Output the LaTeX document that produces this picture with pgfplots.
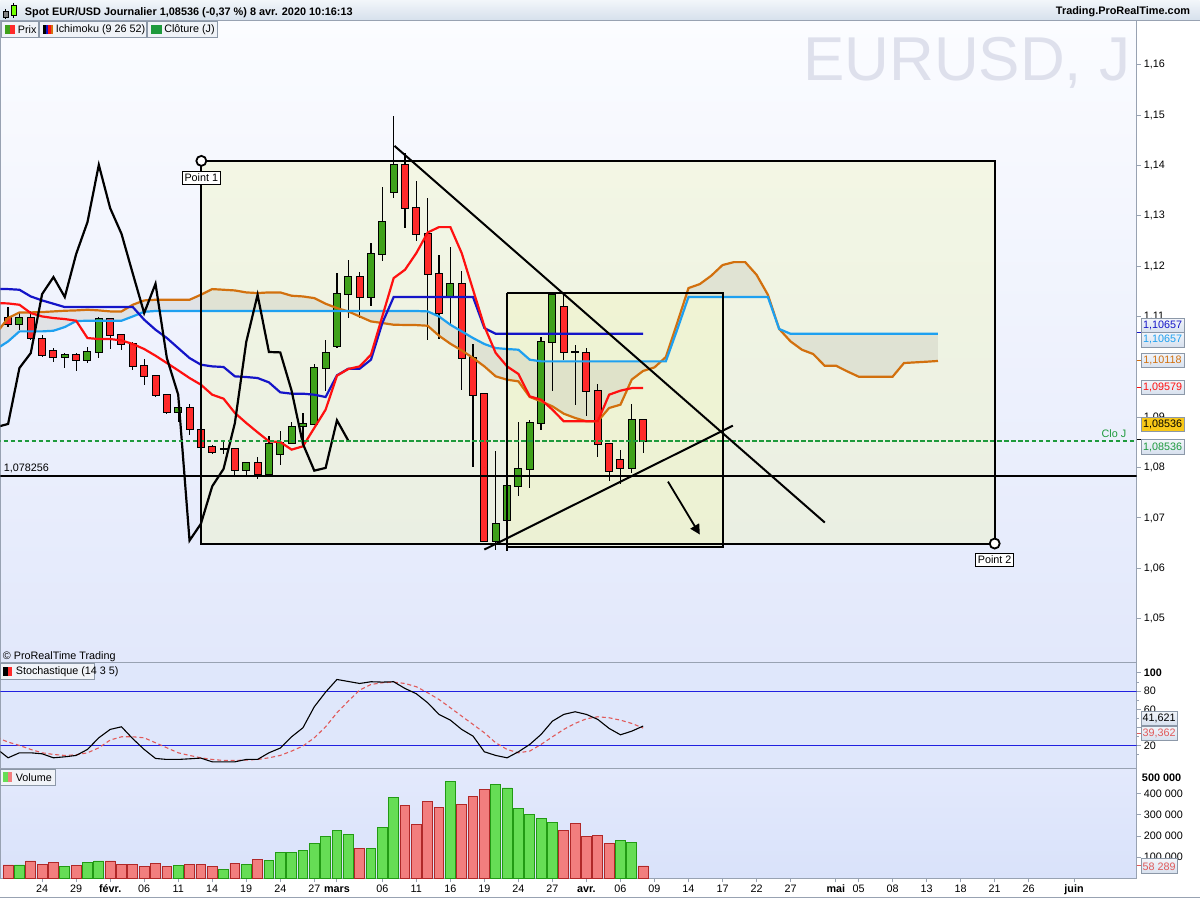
\documentclass[border=0pt]{standalone}
\usepackage{pgfplots}
\pgfplotsset{compat=1.18}
\usepackage{pgfplotstable}
\usepackage{fontspec}
\setmainfont{Liberation Sans}
\usetikzlibrary{arrows.meta}

\definecolor{axgray}{HTML}{98A2B2}
\definecolor{boxgray}{HTML}{8C98A8}
\definecolor{pbgtop}{HTML}{FBFCFF}
\definecolor{pbgbot}{HTML}{E2E8FB}
\definecolor{sbg}{HTML}{DFE7FB}
\definecolor{vbgtop}{HTML}{E3E9FC}
\definecolor{vbgbot}{HTML}{D9E2FA}
\definecolor{cgreen}{HTML}{3FA11A}
\definecolor{cred}{HTML}{FF2A2A}
\definecolor{tenkan}{HTML}{FF1010}
\definecolor{kijun}{HTML}{1414C8}
\definecolor{ssa}{HTML}{D2700E}
\definecolor{ssb}{HTML}{1EA0F0}
\definecolor{cloudc}{HTML}{BEBEB0}
\definecolor{rectc}{HTML}{F0F5BE}
\definecolor{vred}{HTML}{F27E7E}
\definecolor{vredd}{HTML}{B02828}
\definecolor{vgreen}{HTML}{66DD55}
\definecolor{vgreend}{HTML}{229A14}
\definecolor{dred}{HTML}{E05A5A}
\definecolor{sline}{HTML}{2020E0}
\definecolor{clo}{HTML}{1E9A3C}
\definecolor{gold}{HTML}{F8C818}
\definecolor{wm}{HTML}{DEE0EC}
\definecolor{ttop}{HTML}{F2F6FA}
\definecolor{tbot}{HTML}{D6E0EC}
\definecolor{boxtop}{HTML}{F2F5FA}
\definecolor{boxbot}{HTML}{D6E0EE}
\definecolor{legbg}{HTML}{F0F3F8}

\newcommand\fs{\fontsize{5.4}{6.4}\selectfont}
\newcommand\fsb{\fontsize{5.45}{6.4}\selectfont\bfseries}

% candles: i open high low close
\pgfplotstableread{
i o h l c
1 1.10857 1.11069 1.10738 1.10970
5 1.10196 1.10275 1.09978 1.10236
7 1.10137 1.10394 1.10077 1.10302
8 1.10302 1.10982 1.10176 1.10950
15 1.09105 1.09284 1.08899 1.09184
21 1.07960 1.08119 1.07841 1.08093
23 1.07881 1.08622 1.07841 1.08470
24 1.08278 1.08721 1.08060 1.08490
25 1.08490 1.08899 1.08476 1.08807
26 1.08820 1.09085 1.08490 1.08867
27 1.08873 1.10057 1.08853 1.09978
28 1.09978 1.10540 1.09514 1.10275
29 1.10421 1.11862 1.10374 1.11446
30 1.11446 1.12127 1.10970 1.11783
32 1.11387 1.12470 1.11200 1.12240
33 1.12240 1.13581 1.12113 1.12875
34 1.13470 1.14984 1.13351 1.14012
39 1.11399 1.12391 1.10804 1.11651
43 1.06552 1.08324 1.06373 1.06883
44 1.06968 1.07650 1.06339 1.07629
45 1.07643 1.08899 1.07444 1.07974
46 1.07974 1.08950 1.07597 1.08887
47 1.08887 1.10585 1.08754 1.10494
48 1.10494 1.11478 1.09528 1.11433
55 1.07994 1.09270 1.07894 1.08939
}\Tgreen
\pgfplotstableread{
i o h l c
0 1.10970 1.11188 1.10791 1.10857
2 1.10970 1.11101 1.10540 1.10573
3 1.10553 1.10639 1.10196 1.10242
4 1.10321 1.10374 1.10090 1.10196
6 1.10236 1.10275 1.09911 1.10137
9 1.10950 1.10970 1.10355 1.10633
10 1.10633 1.10659 1.10341 1.10460
11 1.10460 1.10487 1.09931 1.10024
12 1.10010 1.10156 1.09647 1.09825
13 1.09812 1.09839 1.09402 1.09435
14 1.09435 1.09468 1.09071 1.09105
16 1.09184 1.09270 1.08655 1.08767
17 1.08741 1.08754 1.08390 1.08410
18 1.08410 1.08456 1.08278 1.08311
19 1.08377 1.08510 1.08278 1.08377
20 1.08371 1.08371 1.07841 1.07960
22 1.08093 1.08212 1.07775 1.07881
31 1.11784 1.11883 1.10970 1.11387
35 1.14012 1.14256 1.12756 1.13153
36 1.13153 1.13694 1.12510 1.12643
37 1.12643 1.13351 1.10540 1.11849
38 1.11849 1.12226 1.10553 1.11069
40 1.11651 1.11909 1.09548 1.10176
41 1.10176 1.10454 1.08013 1.09448
42 1.09462 1.09475 1.06540 1.06552
49 1.11188 1.11433 1.10129 1.10296
50 1.10288 1.10440 1.09250 1.10288
51 1.10276 1.10375 1.09018 1.09528
52 1.09528 1.09667 1.08212 1.08470
53 1.08470 1.08470 1.07728 1.07940
54 1.08145 1.08357 1.07676 1.07994
56 1.08939 1.08950 1.08292 1.08536
}\Tred

% tenkan t, kijun k
\pgfplotstableread{
i t k
-1 1.11268 1.11545
0 1.11260 1.11545
1 1.11234 1.11532
2 1.11069 1.11399
3 1.11002 1.11320
4 1.10970 1.11254
5 1.10950 1.11188
6 1.10917 1.11188
7 1.10573 1.11188
8 1.10553 1.11188
9 1.10553 1.11188
10 1.10526 1.11188
11 1.10454 1.11188
12 1.10355 1.10937
13 1.10222 1.10738
14 1.10077 1.10573
15 1.09931 1.10374
16 1.09779 1.10176
17 1.09647 1.10044
18 1.09448 1.10010
19 1.09369 1.09998
20 1.09085 1.09812
21 1.08887 1.09799
22 1.08701 1.09779
23 1.08522 1.09693
24 1.08509 1.09495
25 1.08357 1.09468
26 1.08423 1.09468
27 1.08788 1.09448
28 1.09151 1.09402
29 1.09825 1.09832
30 1.09958 1.09964
31 1.10010 1.09964
32 1.10242 1.10143
33 1.11002 1.10871
34 1.11763 1.11387
35 1.11929 1.11387
36 1.12260 1.11387
37 1.12669 1.11387
38 1.12776 1.11387
39 1.12776 1.11387
40 1.12260 1.11387
41 1.11532 1.11387
42 1.10804 1.10771
43 1.10276 1.10657
44 1.10010 1.10657
45 1.09859 1.10657
46 1.09415 1.10657
47 1.09349 1.10657
48 1.09151 1.10657
49 1.08919 1.10657
50 1.08919 1.10657
51 1.08919 1.10657
52 1.08919 1.10657
53 1.09448 1.10657
54 1.09528 1.10657
55 1.09579 1.10657
56 1.09579 1.10657
}\Tichi

% senkou a, senkou b
\pgfplotstableread{
i a b
-1 1.10680 1.10360
0 1.10970 1.10506
1 1.11082 1.10705
2 1.11082 1.10705
3 1.11089 1.10705
4 1.11102 1.10718
5 1.11115 1.10791
6 1.11122 1.10910
7 1.11135 1.10917
8 1.11122 1.10917
9 1.11102 1.10917
10 1.11102 1.10917
11 1.11234 1.11002
12 1.11320 1.11095
13 1.11333 1.11110
14 1.11333 1.11110
15 1.11333 1.11110
16 1.11333 1.11110
17 1.11433 1.11110
18 1.11545 1.11110
19 1.11532 1.11110
20 1.11518 1.11110
21 1.11479 1.11110
22 1.11466 1.11110
23 1.11479 1.11110
24 1.11479 1.11110
25 1.11413 1.11110
26 1.11399 1.11110
27 1.11366 1.11110
28 1.11254 1.11110
29 1.11168 1.11110
30 1.11101 1.11110
31 1.11002 1.11110
32 1.10903 1.11110
33 1.10871 1.11110
34 1.10837 1.11110
35 1.10833 1.11110
36 1.10830 1.11110
37 1.10817 1.11102
38 1.10619 1.11002
39 1.10460 1.10837
40 1.10328 1.10705
41 1.10176 1.10573
42 1.10010 1.10454
43 1.09812 1.10374
44 1.09746 1.10355
45 1.09713 1.10341
46 1.09402 1.10143
47 1.09316 1.10110
48 1.09217 1.10110
49 1.09071 1.10110
50 1.08986 1.10110
51 1.08919 1.10110
52 1.08919 1.10110
53 1.09184 1.10110
54 1.09250 1.10110
55 1.09750 1.10110
56 1.09920 1.10110
57 1.09990 1.10110
58 1.10196 1.10110
59 1.10871 1.10738
60 1.11565 1.11387
61 1.11645 1.11387
62 1.11810 1.11387
63 1.12022 1.11387
64 1.12081 1.11387
65 1.12081 1.11387
66 1.11829 1.11387
67 1.11433 1.11387
68 1.10752 1.10752
69 1.10506 1.10657
70 1.10341 1.10657
71 1.10255 1.10657
72 1.10024 1.10657
73 1.10024 1.10657
74 1.09911 1.10657
75 1.09806 1.10657
76 1.09806 1.10657
77 1.09806 1.10657
78 1.09806 1.10657
79 1.10077 1.10657
80 1.10090 1.10657
81 1.10103 1.10657
82 1.10118 1.10657
}\Tcloud

% chikou (lagging line)
\pgfplotstableread{
j v
-1 1.08807
0 1.08867
1 1.09978
2 1.10275
3 1.11446
4 1.11783
5 1.11387
6 1.12240
7 1.12875
8 1.14012
9 1.13153
10 1.12643
11 1.11849
12 1.11069
13 1.11651
14 1.10176
15 1.09448
16 1.06552
17 1.06883
18 1.07629
19 1.07974
20 1.08887
21 1.10494
22 1.11433
23 1.10296
24 1.10288
25 1.09528
26 1.08470
27 1.07940
28 1.07994
29 1.08939
30 1.08536
}\Tchikou

% stochastic K, D
\pgfplotstableread{
i k d
-1 16.6 29.0
0 6.7 24.0
1 12.2 20.3
2 12.2 15.9
3 11.1 12.2
4 6.7 10.4
5 7.8 9.3
6 9.3 10.0
7 15.9 12.2
8 28.7 17.7
9 37.9 26.2
10 40.8 29.8
11 27.6 29.8
12 15.9 28.7
13 6.0 23.2
14 4.9 17.7
15 4.9 12.2
16 5.6 9.3
17 6.4 6.7
18 2.3 4.9
19 2.3 3.8
20 2.3 3.8
21 4.9 4.2
22 4.9 4.9
23 12.2 6.7
24 17.4 9.3
25 29.8 14.1
26 39.7 19.6
27 62.8 28.7
28 78.9 40.8
29 92.8 56.2
30 90.6 69.0
31 88.4 81.1
32 90.3 87.3
33 89.9 89.2
34 90.3 89.9
35 82.9 88.4
36 77.1 84.8
37 67.2 78.2
38 54.4 70.8
39 48.1 61.7
40 37.9 52.5
41 30.5 43.4
42 13.3 34.2
43 9.3 23.2
44 6.7 15.9
45 13.3 12.2
46 21.4 14.1
47 32.4 21.4
48 47.0 29.8
49 54.4 37.9
50 57.3 44.5
51 54.4 49.6
52 48.9 51.8
53 39.0 50.7
54 32.0 48.1
55 36.0 44.5
56 41.6 39.4
}\Tstoch

% volume
\pgfplotstableread{
i v
0 63000
2 82000
3 66000
4 76000
6 62000
9 82000
10 66000
11 66000
12 57000
13 71000
14 57000
16 66000
17 66000
18 57000
20 71000
22 90000
31 141000
35 343000
36 254000
37 362000
38 334000
40 348000
41 390000
42 423000
49 226000
50 259000
51 198000
52 203000
53 165000
56 58289
}\Tvred
\pgfplotstableread{
i v
1 63000
5 57000
7 76000
8 82000
15 62000
19 43000
21 66000
23 85000
24 124000
25 124000
26 132000
27 165000
28 198000
29 226000
30 207000
32 141000
33 240000
34 385000
39 460000
43 446000
44 428000
45 329000
46 301000
47 282000
48 264000
54 179000
55 170000
}\Tvgreen

\pgfplotsset{
  panel/.style={scale only axis, width=568.5pt, xmin=-0.6696, xmax=99.51, anchor=north west,
    axis line style={draw=axgray, line width=0.5pt},
    tick style={draw=axgray, line width=0.5pt},
    tick align=outside, major tick length=2pt, minor tick length=1.2pt,
    xtick=\empty, ytick pos=right, yticklabel pos=right,
    ticklabel style={font=\fs},
    yticklabel style={anchor=west, inner sep=0pt, xshift=1.5pt},
    scaled y ticks=false, clip=true},
  cbar/.style 2 args={only marks, mark=*, mark size=0pt, mark options={draw=none, fill=none}, forget plot,
    error bars/.cd, y dir=both, y explicit, error mark=none,
    error bar style={draw=#1, line width=#2, solid}},
}

\begin{document}
\begin{tikzpicture}
\begin{scope}[x=0.5pt,y=-0.5pt]
\useasboundingbox (0,0) rectangle (1200,900);
\fill[white] (0,0) rectangle (1200,900);
\end{scope}

% ================= PRICE PANEL =================
\begin{axis}[panel, at={(0pt,-10.5pt)}, height=321pt, ymin=1.04131, ymax=1.16869,
  axis background/.style={top color=pbgtop, bottom color=pbgbot},
  ytick={1.05,1.06,1.07,1.08,1.09,1.11,1.12,1.13,1.14,1.15,1.16},
  yticklabels={{1,05},{1,06},{1,07},{1,08},{1,09},{1,11},{1,12},{1,13},{1,14},{1,15},{1,16}}]
% drawing rectangles (fill)
\addplot[draw=none, fill=rectc, fill opacity=0.4, forget plot] coordinates
  {(17.04,1.14091) (87.0,1.14091) (87.0,1.06492) (17.04,1.06492) (17.04,1.14091)};
\addplot[draw=none, fill=rectc, fill opacity=0.4, forget plot] coordinates
  {(43.97,1.11466) (63.0,1.11466) (63.0,1.06427) (43.97,1.06427) (43.97,1.11466)};
% ichimoku cloud: senkou A forward, senkou B backward
\addplot[draw=none, fill=cloudc, fill opacity=0.3, forget plot] coordinates {
(-1,1.10680) (0,1.10970) (1,1.11082) (2,1.11082) (3,1.11089) (4,1.11102) (5,1.11115) (6,1.11122) (7,1.11135) (8,1.11122) (9,1.11102) (10,1.11102) (11,1.11234) (12,1.11320) (13,1.11333) (14,1.11333) (15,1.11333) (16,1.11333) (17,1.11433) (18,1.11545) (19,1.11532) (20,1.11518) (21,1.11479) (22,1.11466) (23,1.11479) (24,1.11479) (25,1.11413) (26,1.11399) (27,1.11366) (28,1.11254) (29,1.11168) (30,1.11101) (31,1.11002) (32,1.10903) (33,1.10871) (34,1.10837) (35,1.10833) (36,1.10830) (37,1.10817) (38,1.10619) (39,1.10460) (40,1.10328) (41,1.10176) (42,1.10010) (43,1.09812) (44,1.09746) (45,1.09713) (46,1.09402) (47,1.09316) (48,1.09217) (49,1.09071) (50,1.08986) (51,1.08919) (52,1.08919) (53,1.09184) (54,1.09250) (55,1.09750) (56,1.09920) (57,1.09990) (58,1.10196) (59,1.10871) (60,1.11565) (61,1.11645) (62,1.11810) (63,1.12022) (64,1.12081) (65,1.12081) (66,1.11829) (67,1.11433) (68,1.10752) (69,1.10506) (70,1.10341) (71,1.10255) (72,1.10024) (73,1.10024) (74,1.09911) (75,1.09806) (76,1.09806) (77,1.09806) (78,1.09806) (79,1.10077) (80,1.10090) (81,1.10103) (82,1.10118)
(82,1.10657) (69,1.10657) (68,1.10752) (67,1.11387) (60,1.11387) (59,1.10738) (58,1.10110) (47,1.10110) (46,1.10143) (45,1.10341) (44,1.10355) (43,1.10374) (42,1.10454) (41,1.10573) (40,1.10705) (39,1.10837) (38,1.11002) (37,1.11102) (36,1.11110) (13,1.11110) (12,1.11095) (11,1.11002) (10,1.10917) (7,1.10917) (6,1.10910) (5,1.10791) (4,1.10718) (3,1.10705) (1,1.10705) (0,1.10506) (-1,1.10360)};
% candles: wicks, borders, bodies
\addplot[cbar={black}{0.6pt}] table[x=i, y expr={(\thisrow{h}+\thisrow{l})/2}, y error expr={(\thisrow{h}-\thisrow{l})/2}]{\Tgreen};
\addplot[cbar={black}{0.6pt}] table[x=i, y expr={(\thisrow{h}+\thisrow{l})/2}, y error expr={(\thisrow{h}-\thisrow{l})/2}]{\Tred};
\addplot[cbar={black}{4pt}] table[x=i, y expr={(\thisrow{o}+\thisrow{c})/2}, y error expr={abs(\thisrow{o}-\thisrow{c})/2+0.0002}]{\Tgreen};
\addplot[cbar={black}{4pt}] table[x=i, y expr={(\thisrow{o}+\thisrow{c})/2}, y error expr={abs(\thisrow{o}-\thisrow{c})/2+0.0002}]{\Tred};
\addplot[cbar={cgreen}{3pt}] table[x=i, y expr={(\thisrow{o}+\thisrow{c})/2}, y error expr={abs(\thisrow{o}-\thisrow{c})/2}]{\Tgreen};
\addplot[cbar={cred}{3pt}] table[x=i, y expr={(\thisrow{o}+\thisrow{c})/2}, y error expr={abs(\thisrow{o}-\thisrow{c})/2}]{\Tred};
% ichimoku lines
\addplot[ssa, line width=1.1pt, forget plot] table[x=i,y=a]{\Tcloud};
\addplot[ssb, line width=1.1pt, forget plot] table[x=i,y=b]{\Tcloud};
\addplot[kijun, line width=1.1pt, forget plot] table[x=i,y=k]{\Tichi};
\addplot[tenkan, line width=1.1pt, forget plot] table[x=i,y=t]{\Tichi};
\addplot[black, line width=1.1pt, forget plot] table[x=j,y=v]{\Tchikou};
% closing levels
\addplot[black, line width=1pt, forget plot] coordinates {(-1,1.078256) (100,1.078256)};
\addplot[clo, line width=1pt, dash pattern=on 2.3pt off 1.2pt, forget plot] coordinates {(-1,1.08536) (100,1.08536)};
% drawings
\addplot[black, line width=1pt, forget plot] coordinates
  {(17.04,1.14091) (87.0,1.14091) (87.0,1.06492) (17.04,1.06492) (17.04,1.14091)};
\addplot[black, line width=1pt, forget plot] coordinates
  {(43.97,1.11466) (63.0,1.11466) (63.0,1.06427) (43.97,1.06427) (43.97,1.11466)};
\addplot[black, line width=1pt, forget plot] coordinates {(34.07,1.14389) (72.02,1.06909)};
\addplot[black, line width=1pt, forget plot] coordinates {(42.0,1.06373) (63.91,1.08833)};
\addplot[black, line width=0.9pt, -{Triangle[length=5pt,width=5pt]}, forget plot] coordinates {(58.19,1.07722) (61.0,1.06671)};
\addplot[only marks, mark=*, mark size=2.5pt, mark options={fill=white, draw=black, line width=0.9pt}, forget plot] coordinates {(17.04,1.14091) (87.0,1.06492)};
\end{axis}

% ================= STOCHASTIC PANEL =================
\begin{axis}[panel, at={(0pt,-331.5pt)}, height=53pt, ymin=-4.9, ymax=111.5,
  axis background/.style={fill=sbg},
  ytick={20,40,60,80,100}, yticklabels={20,{},60,80,\textbf{100}},
  minor ytick={10,30,50,70,90}]
\addplot[sline, line width=0.6pt, forget plot] coordinates {(-1,80) (100,80)};
\addplot[sline, line width=0.6pt, forget plot] coordinates {(-1,20) (100,20)};
\addplot[dred, line width=0.55pt, dash pattern=on 2pt off 1.4pt, forget plot] table[x=i,y=d]{\Tstoch};
\addplot[black, line width=0.55pt, forget plot] table[x=i,y=k]{\Tstoch};
\end{axis}

% ================= VOLUME PANEL =================
\begin{axis}[panel, at={(0pt,-384.5pt)}, height=55pt, ymin=0, ymax=521000,
  axis background/.style={top color=vbgtop, bottom color=vbgbot},
  ybar, bar width=4.9pt, bar shift=0pt,
  ytick={100000,200000,300000,400000},
  yticklabels={100 000,200 000,300 000,400 000},
  xtick pos=left,
  xtick={3,6,9,12,15,18,21,24,27,29,33,36,39,42,45,48,51,54,57,60,63,66,69,73,75,78,81,84,87,90,94},
  xticklabels={24,29,\textbf{févr.},06,11,14,19,24,27,\textbf{mars},06,11,16,19,24,27,\textbf{avr.},06,09,14,17,22,27,\textbf{mai},05,08,13,18,21,26,\textbf{juin}},
  xticklabel style={anchor=base, inner sep=0pt, yshift=-5pt}]
\addplot[fill=vred, draw=vredd, line width=0.45pt, forget plot] table[x=i,y=v]{\Tvred};
\addplot[fill=vgreen, draw=vgreend, line width=0.45pt, forget plot] table[x=i,y=v]{\Tvgreen};
\end{axis}

% ================= FRAME, LABELS =================
\begin{scope}[x=0.5pt,y=-0.5pt]
% title bar
\shade[top color=ttop, bottom color=tbot] (0,0) rectangle (1200,20.5);
\draw[axgray, line width=0.5pt] (0,20.75) -- (1200,20.75);
\draw[black, line width=0.4pt] (5,9) -- (5,19);
\filldraw[fill=gray, draw=black, line width=0.4pt] (3,11.5) rectangle (7.5,17);
\draw[black, line width=0.4pt] (13,3) -- (13,18);
\filldraw[fill=green!55!yellow, draw=black, line width=0.4pt] (10.5,5) rectangle (15.5,15);
\node[anchor=west, inner sep=0pt, font=\fsb] at (24,12.3) {Spot EUR/USD Journalier 1,08536 (-0,37 \%) 8 avr. 2020 10:16:13};
\node[anchor=east, inner sep=0pt, font=\fsb] at (1191,11.5) {Trading.ProRealTime.com};
\draw[axgray, line width=0.5pt] (0,898.5) -- (1200,898.5);

% watermark
\node[anchor=west, inner sep=0pt, text=wm, font=\fontsize{31}{31}\selectfont] at (803,63) {EURUSD, J};

% legend boxes price panel
\filldraw[fill=legbg, draw=boxgray, line width=0.5pt] (1.5,22) rectangle (38.5,37.7);
\fill[cgreen] (5,25) rectangle (10,34.5); \fill[cred] (10,25) rectangle (15,34.5);
\node[anchor=west, inner sep=0pt, font=\fs] at (17,29.8) {Prix};
\filldraw[fill=legbg, draw=boxgray, line width=0.5pt] (39.3,22) rectangle (146,37.7);
\fill[black] (43,25) rectangle (45.5,34.5); \fill[kijun] (45.5,25) rectangle (48,34.5);
\fill[tenkan] (48,25) rectangle (50.5,34.5); \fill[ssa] (50.5,25) rectangle (53,34.5);
\node[anchor=west, inner sep=0pt, font=\fs] at (55,29.8) {Ichimoku (9 26 52)};
\filldraw[fill=legbg, draw=boxgray, line width=0.5pt] (147,22) rectangle (217.5,37.7);
\fill[clo] (151,25) rectangle (161.5,34.5);
\node[anchor=west, inner sep=0pt, font=\fs] at (163.5,29.8) {Clôture (J)};

% text in price panel
\node[anchor=west, inner sep=0pt, font=\fs] at (3,469) {1,078256};
\node[anchor=east, inner sep=0pt, font=\fs, text=clo] at (1127,433.5) {Clo J};
\node[draw=black, fill=white, line width=0.5pt, inner sep=1.2pt, font=\fs] at (201,178) {Point 1};
\node[draw=black, fill=white, line width=0.5pt, inner sep=1.2pt, font=\fs] at (995,560.5) {Point 2};
\node[anchor=west, inner sep=0pt, font=\fs] at (2,657) {© ProRealTime Trading};

% stochastic and volume labels
\filldraw[fill=legbg, draw=boxgray, line width=0.5pt] (0.5,664) rectangle (94,680);
\fill[black] (3,668) rectangle (7.5,677); \fill[cred] (7.5,668) rectangle (12,677);
\node[anchor=west, inner sep=0pt, font=\fs] at (15,672) {Stochastique (14 3 5)};
\filldraw[fill=legbg, draw=boxgray, line width=0.5pt] (0.5,770) rectangle (55,786);
\fill[vgreen] (3,773) rectangle (7.5,783); \fill[vred] (7.5,773) rectangle (12,783);
\node[anchor=west, inner sep=0pt, font=\fs] at (15,778) {Volume};
\node[anchor=west, inner sep=0pt, font=\fsb] at (1142,778) {500 000};

% value boxes
\tikzset{vbox/.style={draw=boxgray, top color=boxtop, bottom color=boxbot, line width=0.5pt,
  inner sep=0pt, minimum width=21.5pt, minimum height=7.3pt, anchor=west, font=\fs}}
\draw[kijun, line width=0.5pt] (1137,333) -- (1141,333);
\node[vbox, text=kijun] at (1141,326) {1,10657};
\node[vbox, text=ssb] at (1141,340) {1,10657};
\draw[ssa, line width=0.5pt] (1137,361) -- (1141,361);
\node[vbox, text=ssa] at (1141,361) {1,10118};
\draw[tenkan, line width=0.5pt] (1137,388) -- (1141,388);
\node[vbox, text=tenkan] at (1141,388) {1,09579};
\node[vbox, text=black, top color=gold, bottom color=gold] at (1141,425) {1,08536};
\draw[black, line width=0.5pt] (1137,440) -- (1141,440);
\node[vbox, text=clo] at (1141,447.5) {1,08536};
\node[vbox, minimum width=18pt, text=black] at (1141,719) {41,621};
\draw[dred, line width=0.5pt] (1137,734) -- (1141,734);
\node[vbox, minimum width=18pt, text=dred] at (1141,734) {39,362};
\draw[dred, line width=0.5pt] (1137,866) -- (1141,866);
\node[vbox, minimum width=18pt, text=dred] at (1141,867) {58 289};
\end{scope}
\end{tikzpicture}
\end{document}
